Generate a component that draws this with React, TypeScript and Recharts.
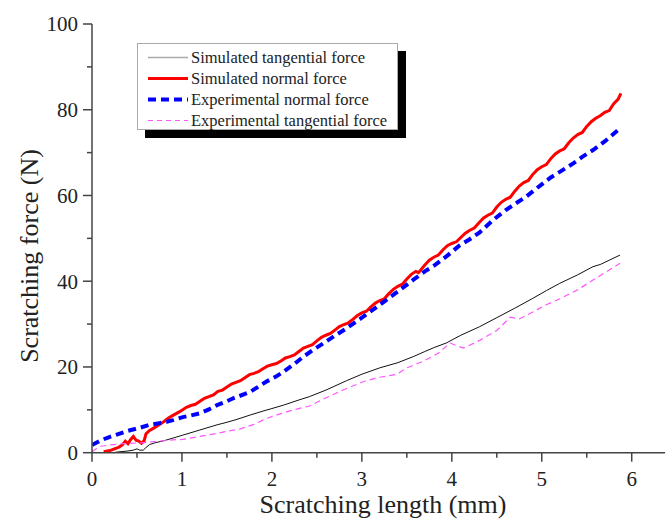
import { LineChart, Line, XAxis, YAxis, Label } from "recharts";

// x in mm, y in N
const simTangential = [
  [0.23, 0.0], [0.3, 0.2], [0.4, 0.4], [0.46, 0.6], [0.5, 0.9], [0.53, 0.6], [0.57, 0.6],
  [0.6, 1.2], [0.64, 1.9], [0.7, 2.3], [0.8, 2.8], [0.9, 3.4], [1.01, 4.1], [1.2, 5.3],
  [1.39, 6.5], [1.5, 7.1], [1.6, 7.7], [1.76, 8.8], [1.9, 9.7], [2.0, 10.3], [2.13, 11.1],
  [2.3, 12.3], [2.42, 13.1], [2.6, 14.6], [2.83, 16.8], [3.0, 18.3], [3.2, 19.8], [3.4, 21.0],
  [3.57, 22.4], [3.7, 23.6], [3.8, 24.5], [3.94, 25.6], [4.1, 27.4], [4.31, 29.4], [4.5, 31.5],
  [4.7, 33.7], [4.9, 36.0], [5.05, 37.8], [5.2, 39.5], [5.4, 41.5], [5.57, 43.4], [5.65, 43.9],
  [5.75, 44.9], [5.87, 46.1],
];

const simNormal = [
  [0.13, 0.2], [0.2, 0.5], [0.25, 0.9], [0.3, 1.3], [0.34, 1.9], [0.37, 2.7], [0.4, 2.1],
  [0.43, 3.1], [0.46, 3.8], [0.49, 2.9], [0.52, 2.7], [0.55, 2.2], [0.58, 2.8], [0.6, 4.4],
  [0.64, 5.2], [0.7, 5.9], [0.75, 6.6], [0.8, 7.3], [0.85, 8.1], [0.9, 8.7], [0.95, 9.3],
  [1.0, 9.9], [1.05, 10.6], [1.1, 11.0], [1.15, 11.3], [1.2, 12.0], [1.25, 12.7], [1.3, 13.1],
  [1.35, 13.5], [1.4, 14.3], [1.45, 14.6], [1.5, 15.3], [1.55, 16.0], [1.6, 16.4], [1.65, 16.8],
  [1.7, 17.5], [1.75, 18.2], [1.8, 18.5], [1.85, 18.9], [1.9, 19.6], [1.95, 20.2], [2.0, 20.5],
  [2.05, 20.8], [2.1, 21.4], [2.15, 22.1], [2.2, 22.4], [2.25, 22.8], [2.3, 23.6], [2.35, 24.4],
  [2.4, 24.8], [2.45, 25.2], [2.5, 26.1], [2.55, 26.9], [2.6, 27.4], [2.65, 27.8], [2.7, 28.6],
  [2.75, 29.4], [2.8, 29.9], [2.85, 30.3], [2.9, 31.1], [2.95, 32.0], [3.0, 32.6], [3.05, 33.0],
  [3.1, 34.0], [3.15, 34.9], [3.2, 35.5], [3.25, 35.9], [3.3, 37.1], [3.35, 38.1], [3.4, 38.8],
  [3.45, 39.3], [3.5, 40.5], [3.55, 41.6], [3.6, 42.3], [3.63, 42.0], [3.7, 43.8], [3.75, 44.9],
  [3.8, 45.6], [3.85, 46.1], [3.9, 47.3], [3.95, 48.3], [4.0, 48.8], [4.05, 49.2], [4.1, 50.2],
  [4.15, 51.2], [4.2, 51.9], [4.25, 52.4], [4.3, 53.6], [4.35, 54.7], [4.4, 55.4], [4.45, 55.9],
  [4.5, 57.3], [4.55, 58.4], [4.6, 59.1], [4.65, 59.6], [4.7, 61.0], [4.75, 62.2], [4.8, 63.0],
  [4.85, 63.5], [4.9, 64.9], [4.95, 66.0], [5.0, 66.7], [5.05, 67.2], [5.1, 68.6], [5.15, 69.7],
  [5.2, 70.4], [5.25, 70.9], [5.3, 72.3], [5.35, 73.4], [5.4, 74.2], [5.45, 74.7], [5.5, 76.1],
  [5.55, 77.2], [5.6, 78.0], [5.65, 78.6], [5.7, 79.4], [5.75, 79.8], [5.8, 81.4], [5.85, 82.5],
  [5.88, 83.8],
];

const expNormal = [
  [0, 1.8], [0.1, 2.9], [0.2, 3.7], [0.3, 4.4], [0.4, 5.1], [0.53, 5.8], [0.64, 6.5],
  [0.75, 6.9], [0.83, 7.2], [0.9, 7.6], [1.01, 8.3], [1.1, 8.7], [1.2, 9.2], [1.3, 10.1],
  [1.39, 11.1], [1.5, 12.0], [1.57, 12.7], [1.7, 13.7], [1.76, 14.2], [1.85, 15.4], [1.94, 16.6],
  [2.05, 17.8], [2.13, 18.9], [2.25, 20.7], [2.35, 22.4], [2.46, 24.0], [2.6, 25.9], [2.7, 27.3],
  [2.83, 29.0], [3.0, 31.5], [3.1, 33.0], [3.2, 34.5], [3.4, 37.6], [3.57, 40.3], [3.7, 42.3],
  [3.8, 43.6], [3.94, 45.8], [4.09, 48.4], [4.2, 49.8], [4.31, 51.4], [4.46, 54.3], [4.6, 56.6],
  [4.7, 58.0], [4.83, 59.8], [5.0, 62.6], [5.1, 64.2], [5.2, 65.5], [5.35, 67.5], [5.45, 69.0],
  [5.57, 70.6], [5.7, 72.6], [5.85, 75.3],
];

const expTangential = [
  [0, 0.2], [0.05, 1.0], [0.1, 1.5], [0.2, 1.8], [0.35, 2.1], [0.53, 2.3], [0.7, 2.6],
  [0.9, 3.0], [1.01, 3.1], [1.2, 3.8], [1.39, 4.5], [1.5, 5.0], [1.64, 5.5], [1.8, 6.6],
  [1.94, 8.0], [2.1, 9.1], [2.24, 10.0], [2.42, 10.9], [2.57, 12.5], [2.8, 14.7], [3.02, 16.6],
  [3.2, 17.6], [3.39, 18.3], [3.5, 19.8], [3.68, 21.3], [3.85, 23.2], [3.98, 25.6], [4.05, 25.0],
  [4.13, 24.4], [4.31, 26.2], [4.5, 28.5], [4.65, 31.6], [4.75, 31.2], [4.9, 32.8], [5.05, 34.5],
  [5.2, 35.9], [5.4, 38.0], [5.57, 40.3], [5.75, 42.6], [5.87, 44.2],
];

const xTicks = [0, 0.5, 1, 1.5, 2, 2.5, 3, 3.5, 4, 4.5, 5, 5.5, 6];
const yTicks = [0, 10, 20, 30, 40, 50, 60, 70, 80, 90, 100];

const toPts = (arr: number[][]) => arr.map(([x, y]) => ({ x, y }));

const AXIS = "#444";
const FONT = "'Liberation Serif', 'Times New Roman', serif";

const BottomTick = (props: any) => {
  const { x, y, payload } = props;
  const major = Number.isInteger(payload.value);
  return (
    <g>
      <line x1={x} x2={x} y1={y} y2={y + (major ? 9 : 5)} stroke={AXIS} strokeWidth={1.5} />
      {major && (
        <text x={x} y={y + 33} textAnchor="middle" fontSize={21} fill="#222" fontFamily={FONT}>
          {payload.value}
        </text>
      )}
    </g>
  );
};

const TopTick = (props: any) => {
  const { x, y, payload } = props;
  const major = Number.isInteger(payload.value);
  return <line x1={x} x2={x} y1={y} y2={y + (major ? 9 : 5)} stroke={AXIS} strokeWidth={1.5} />;
};

const LeftTick = (props: any) => {
  const { x, y, payload } = props;
  const major = payload.value % 20 === 0;
  return (
    <g>
      <line x1={x} x2={x - (major ? 9 : 5)} y1={y} y2={y} stroke={AXIS} strokeWidth={1.5} />
      {major && (
        <text x={x - 14} y={y} dy="0.35em" textAnchor="end" fontSize={21} fill="#222" fontFamily={FONT}>
          {payload.value}
        </text>
      )}
    </g>
  );
};

const legendItems = [
  { name: "Simulated tangential force", color: "#aaaaaa", width: 1.5, dash: undefined },
  { name: "Simulated normal force", color: "#ff0000", width: 3, dash: undefined },
  { name: "Experimental normal force", color: "#0000ff", width: 4, dash: "8 5" },
  { name: "Experimental tangential force", color: "#ff55ff", width: 1.2, dash: "5 4" },
];

export default function App() {
  return (
    <div style={{ position: "absolute", left: 0, top: 0, width: 665, height: 522, background: "#fff" }}>
      <LineChart width={665} height={522} margin={{ top: 24, right: 0, left: 0, bottom: 0 }}>
        <XAxis
          dataKey="x"
          type="number"
          domain={[0, 6.37]}
          ticks={xTicks}
          interval={0}
          height={69.3}
          tickSize={0}
          tickMargin={0}
          tick={<BottomTick />}
          stroke={AXIS}
          strokeWidth={1.5}
          allowDataOverflow
        >
          <Label
            content={() => (
              <text x={383} y={513} textAnchor="middle" fontSize={26} fill="#222" fontFamily={FONT}>
                Scratching length (mm)
              </text>
            )}
          />
        </XAxis>
        <XAxis
          xAxisId="top"
          orientation="top"
          type="number"
          domain={[0, 6.37]}
          ticks={xTicks}
          interval={0}
          height={0}
          tickSize={0}
          tickMargin={0}
          tick={<TopTick />}
          stroke={AXIS}
          strokeWidth={1.5}
          allowDataOverflow
        />
        <YAxis
          dataKey="y"
          type="number"
          domain={[0, 100]}
          ticks={yTicks}
          interval={0}
          width={92}
          tickSize={0}
          tickMargin={0}
          tick={<LeftTick />}
          stroke={AXIS}
          strokeWidth={1.5}
        >
          <Label
            content={() => (
              <text
                x={29}
                y={256}
                textAnchor="middle"
                dominantBaseline="central"
                transform="rotate(-90 29 256)"
                fontSize={26}
                fill="#222"
                fontFamily={FONT}
              >
                Scratching force (N)
              </text>
            )}
          />
        </YAxis>
        <Line data={toPts(simTangential)} dataKey="y" type="linear" stroke="#111" strokeWidth={1} dot={false} isAnimationActive={false} />
        <Line data={toPts(simNormal)} dataKey="y" type="linear" stroke="#ff0000" strokeWidth={3} dot={false} isAnimationActive={false} />
        <Line data={toPts(expNormal)} dataKey="y" type="linear" stroke="#0000ff" strokeWidth={4} strokeDasharray="8 5" dot={false} isAnimationActive={false} />
        <Line data={toPts(expTangential)} dataKey="y" type="linear" stroke="#ff55ff" strokeWidth={1.2} strokeDasharray="6 4" dot={false} isAnimationActive={false} />
      </LineChart>

      <div
        style={{
          position: "absolute",
          left: 137,
          top: 43,
          width: 261,
          height: 87,
          boxSizing: "border-box",
          border: "1px solid #aaa",
          background: "#fff",
          boxShadow: "8px 8px 0 #000",
          fontFamily: FONT,
          fontSize: 16.5,
          color: "#222",
        }}
      >
        {legendItems.map((item, i) => (
          <div key={item.name} style={{ position: "absolute", left: 0, top: 3 + i * 21, height: 21, width: 260 }}>
            <svg width={44} height={21} style={{ position: "absolute", left: 8, top: 0 }}>
              <line x1={2} x2={42} y1={10.5} y2={10.5} stroke={item.color} strokeWidth={item.width} strokeDasharray={item.dash} />
            </svg>
            <span style={{ position: "absolute", left: 53, top: 1, whiteSpace: "nowrap", lineHeight: "19px" }}>{item.name}</span>
          </div>
        ))}
      </div>
    </div>
  );
}
